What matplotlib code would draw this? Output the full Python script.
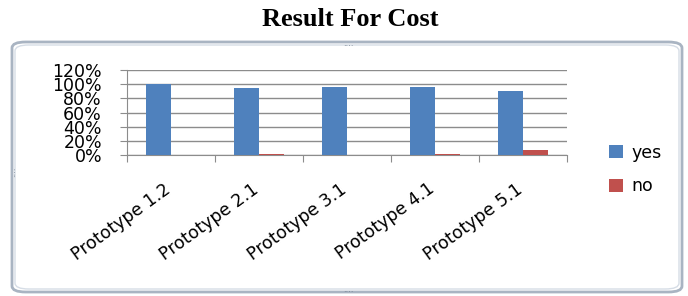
import matplotlib.pyplot as plt
from matplotlib.patches import FancyBboxPatch, Patch
import numpy as np

categories = ['Prototype 1.2', 'Prototype 2.1', 'Prototype 3.1', 'Prototype 4.1', 'Prototype 5.1']
yes_values = [1.00, 0.94, 0.96, 0.96, 0.90]
no_values = [0.0, 0.02, 0.0, 0.02, 0.07]
y_ticks = [0, 0.2, 0.4, 0.6, 0.8, 1.0, 1.2]
y_labels = ['0%', '20%', '40%', '60%', '80%', '100%', '120%']

blue = '#4F81BD'
red = '#C0504D'
grid_grey = '#8C8C8C'

fig = plt.figure(figsize=(6.88, 2.96), dpi=100)

# Rounded chart frame like the Excel chart object.
frame = FancyBboxPatch((12 / 688, 1 - 292 / 296), 670 / 688, 250 / 296,
                       boxstyle='round,pad=0,rounding_size=0.02',
                       transform=fig.transFigure, facecolor='white',
                       edgecolor='#A9B4C2', linewidth=2.0, zorder=-2)
fig.patches.append(frame)
inner = FancyBboxPatch((15 / 688, 1 - 289 / 296), 664 / 688, 244 / 296,
                       boxstyle='round,pad=0,rounding_size=0.02',
                       transform=fig.transFigure, facecolor='none',
                       edgecolor='#D6DDE6', linewidth=1.0, zorder=-1)
fig.patches.append(inner)
for (fx, fy, rot) in [(348, 44, 0), (348, 290, 0), (13, 172, 90)]:
    fig.text(fx / 688, 1 - fy / 296, '....', fontsize=6, color='#6E7B8B',
             ha='center', va='center', rotation=rot)

fig.text(350 / 688, 1 - 20 / 296, 'Result For Cost', family='Liberation Serif',
         fontweight='bold', fontsize=19, ha='center', va='center')

ax = fig.add_axes([127 / 688, 1 - 155 / 296, 440 / 688, 85 / 296])
ax.patch.set_alpha(0)
x = np.arange(len(categories))
w = 0.284
ax.bar(x - w / 2, yes_values, w, color=blue, label='yes', zorder=3)
ax.bar(x + w / 2, no_values, w, color=red, label='no', zorder=3)

ax.set_xlim(-0.5, len(categories) - 0.5)
ax.set_ylim(0, 1.2)
ax.set_yticks(y_ticks)
ax.set_yticklabels(y_labels, fontsize=12.5)
ax.yaxis.grid(True, color=grid_grey, linewidth=1.0, zorder=0)

ax.set_xticks(np.arange(-0.5, len(categories), 1.0))
ax.set_xticklabels([])
ax.tick_params(axis='x', length=5, color=grid_grey, direction='out')
ax.tick_params(axis='y', length=5, color=grid_grey, direction='out', pad=13)

for i, name in enumerate(categories):
    ax.annotate(name, xy=(i, 0), xycoords=('data', 'axes fraction'),
                xytext=(2, -18), textcoords='offset points',
                rotation=36, ha='right', va='top', fontsize=12.5)

for side in ['top', 'right']:
    ax.spines[side].set_visible(False)
ax.spines['left'].set_color(grid_grey)
ax.spines['bottom'].set_color(grid_grey)

handles = [Patch(facecolor=blue, label='yes'), Patch(facecolor=red, label='no')]
fig.legend(handles=handles, loc='upper left', bbox_to_anchor=(600 / 688, 1 - 135 / 296),
           frameon=False, fontsize=12.5, handlelength=0.85, handleheight=0.75,
           handletextpad=0.45, labelspacing=0.9, borderpad=0)

fig.savefig('out.png', dpi=100)
